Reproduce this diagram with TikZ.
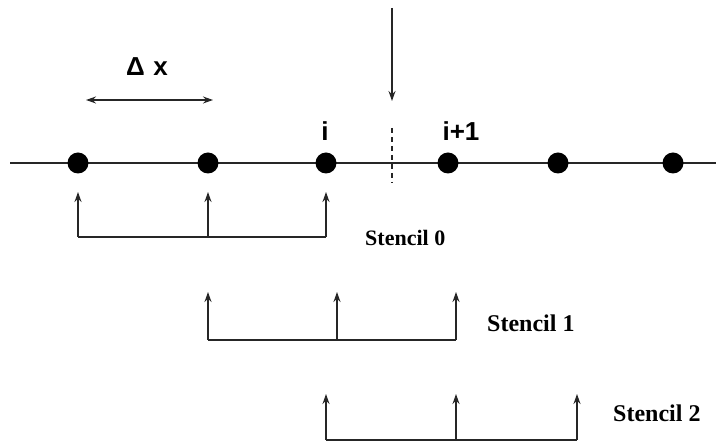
\documentclass[tikz,border=0pt]{standalone}
\usepackage{fontspec}
\setmainfont{Liberation Serif}
\setsansfont{Liberation Sans}
\usetikzlibrary{arrows.meta}
\begin{document}
\begin{tikzpicture}[x=1pt,y=-1pt,
  ln/.style={line width=1.4pt,draw=black!85},
  dot/.style={circle,fill=black,inner sep=0pt,minimum width=21pt,minimum height=20pt},
  tip/.style={Stealth[length=10pt,width=7pt]},
  up/.style={ln,-{Stealth[length=10pt,width=7pt]}},
  stlab/.style={anchor=west,inner sep=0pt},
  lab/.style={font=\sffamily\bfseries\fontsize{26}{28}\selectfont,inner sep=0pt}]
\useasboundingbox (0,0) rectangle (716,443);
\coordinate (L) at (10,163);
\coordinate (R) at (716,163);
\draw[ln] (L) -- (R);
\node[dot] (d1) at (78,163) {};
\node[dot] (d2) at (208,163) {};
\node[dot] (d3) at (326,163) {};
\node[dot] (d4) at (448,163) {};
\node[dot] (d5) at (558,163) {};
\node[dot] (d6) at (673,163) {};
\node[lab] (li) at (325,131) {i};
\node[lab] (li1) at (461,131) {i+1};
\node[font=\sffamily\bfseries\fontsize{26}{28}\selectfont,inner sep=0pt] (dx) at (147,67) {Δ\,\,x};
\coordinate (dxa) at (86,100);
\coordinate (dxb) at (213,100);
\draw[ln,{Stealth[length=10pt,width=7pt]}-{Stealth[length=10pt,width=7pt]}] (dxa) -- (dxb);
\coordinate (ta) at (392,8);
\coordinate (tb) at (392,101);
\draw[up] (ta) -- (tb);
\coordinate (da) at (392,128);
\coordinate (db) at (392,183);
\draw[ln,dashed,dash pattern=on 5pt off 4pt] (da) -- (db);
% Stencil 0
\foreach \x [count=\k] in {78,208,326} {
  \coordinate (a\k) at (\x,237);
  \coordinate (b\k) at (\x,192);
  \draw[up] (a\k) -- (b\k);
}
\draw[ln] (a1) -- (a3);
\node[stlab,font=\bfseries\fontsize{22}{24}\selectfont] (s0) at (365,238) {Stencil 0};
% Stencil 1
\foreach \x [count=\k] in {208,337,456} {
  \coordinate (c\k) at (\x,340);
  \coordinate (e\k) at (\x,292);
  \draw[up] (c\k) -- (e\k);
}
\draw[ln] (c1) -- (c3);
\node[stlab,font=\bfseries\fontsize{24}{26}\selectfont] (s1) at (487,323) {Stencil 1};
% Stencil 2
\foreach \x [count=\k] in {326,456,577} {
  \coordinate (f\k) at (\x,440);
  \coordinate (g\k) at (\x,394);
  \draw[up] (f\k) -- (g\k);
}
\draw[ln] (f1) -- (f3);
\node[stlab,font=\bfseries\fontsize{24}{26}\selectfont] (s2) at (613,413) {Stencil 2};
\end{tikzpicture}
\end{document}
